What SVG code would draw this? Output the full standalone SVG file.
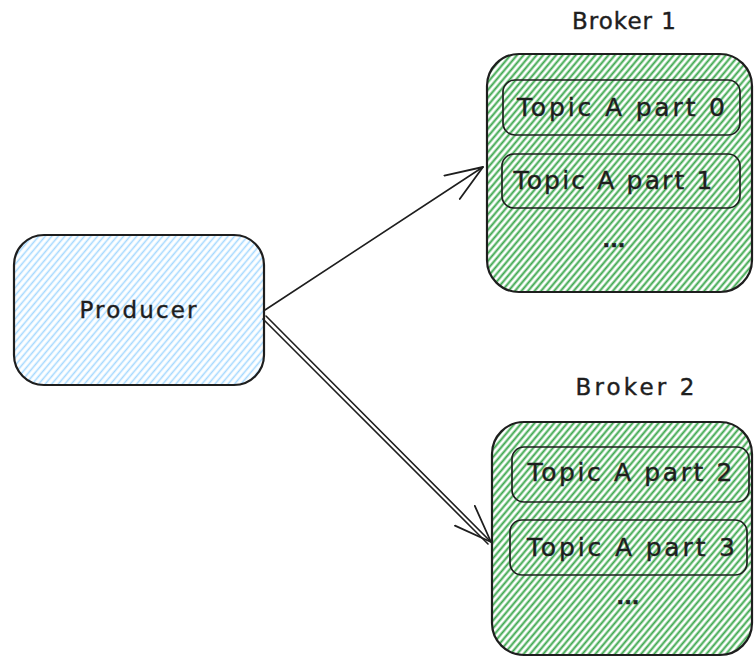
<svg xmlns="http://www.w3.org/2000/svg" width="754" height="657" viewBox="0 0 754 657">
  <defs>
    <!-- hand-drawn style hatch fills -->
    <pattern id="hatch-green" width="5" height="5" patternUnits="userSpaceOnUse" patternTransform="rotate(40)">
      <line x1="1.5" y1="0" x2="1.5" y2="5" stroke="#3aa64b" stroke-width="2"/>
    </pattern>
    <pattern id="hatch-blue" width="5" height="5" patternUnits="userSpaceOnUse" patternTransform="rotate(40)">
      <line x1="1.5" y1="0" x2="1.5" y2="5" stroke="#a5d8ff" stroke-width="1.6"/>
    </pattern>
    <marker id="open-arrow" viewBox="0 0 40 30" refX="38" refY="15" markerWidth="40" markerHeight="30" markerUnits="userSpaceOnUse" orient="auto">
      <path d="M1,1 L38,15 L1,29" fill="none" stroke="#1e1e1e" stroke-width="1.8" stroke-linecap="round" stroke-linejoin="round"/>
    </marker>
  </defs>
  <style>
    .box { stroke: #1e1e1e; stroke-width: 2.2; }
    .inner { fill: none; stroke: #1e1e1e; stroke-width: 1.7; }
    .label { font-family: "DejaVu Sans", "Liberation Sans", sans-serif; fill: #1e1e1e; stroke: #1e1e1e; stroke-width: 0.4; }
    .edge { stroke: #1e1e1e; stroke-width: 1.6; fill: none; stroke-linecap: round; }
  </style>
  <rect width="754" height="657" fill="#ffffff"/>

  <g id="producer">
    <rect class="box" x="14" y="235" width="250" height="150" rx="30" fill="url(#hatch-blue)"/>
    <text class="label" x="138" y="318" font-size="23" text-anchor="middle" textLength="117" lengthAdjust="spacing">Producer</text>
  </g>

  <g id="broker-1">
    <text class="label" x="624" y="29" font-size="23" text-anchor="middle" textLength="104" lengthAdjust="spacing">Broker 1</text>
    <rect class="box" x="487" y="54" width="265" height="238" rx="32" fill="url(#hatch-green)"/>
    <g id="topic-a-part-0">
      <rect class="inner" x="503" y="80" width="237" height="55" rx="12"/>
      <text class="label" x="621" y="116" font-size="25" text-anchor="middle" textLength="208" lengthAdjust="spacing">Topic A part 0</text>
    </g>
    <g id="topic-a-part-1">
      <rect class="inner" x="502" y="154" width="238" height="54" rx="12"/>
      <text class="label" x="613" y="189" font-size="25" text-anchor="middle" textLength="199" lengthAdjust="spacing">Topic A part 1</text>
    </g>
    <text class="label" x="614" y="247" font-size="20" text-anchor="middle" font-weight="bold">...</text>
  </g>

  <g id="broker-2">
    <text class="label" x="635" y="395" font-size="23" text-anchor="middle" textLength="119" lengthAdjust="spacing">Broker 2</text>
    <rect class="box" x="492" y="422" width="260" height="233" rx="32" fill="url(#hatch-green)"/>
    <g id="topic-a-part-2">
      <rect class="inner" x="512" y="447" width="237" height="55" rx="12"/>
      <text class="label" x="630" y="481" font-size="25" text-anchor="middle" textLength="205" lengthAdjust="spacing">Topic A part 2</text>
    </g>
    <g id="topic-a-part-3">
      <rect class="inner" x="510" y="520" width="237" height="55" rx="12"/>
      <text class="label" x="631" y="556" font-size="25" text-anchor="middle" textLength="208" lengthAdjust="spacing">Topic A part 3</text>
    </g>
    <text class="label" x="628" y="604" font-size="20" text-anchor="middle" font-weight="bold">...</text>
  </g>

  <g id="connectors">
    <line class="edge" x1="265" y1="310" x2="483" y2="167" marker-end="url(#open-arrow)"/>
    <!-- doubled stroke for the second connector -->
    <line class="edge" x1="266" y1="316" x2="491" y2="542" marker-end="url(#open-arrow)"/>
    <line class="edge" x1="263" y1="319" x2="488" y2="544"/>
  </g>
</svg>
